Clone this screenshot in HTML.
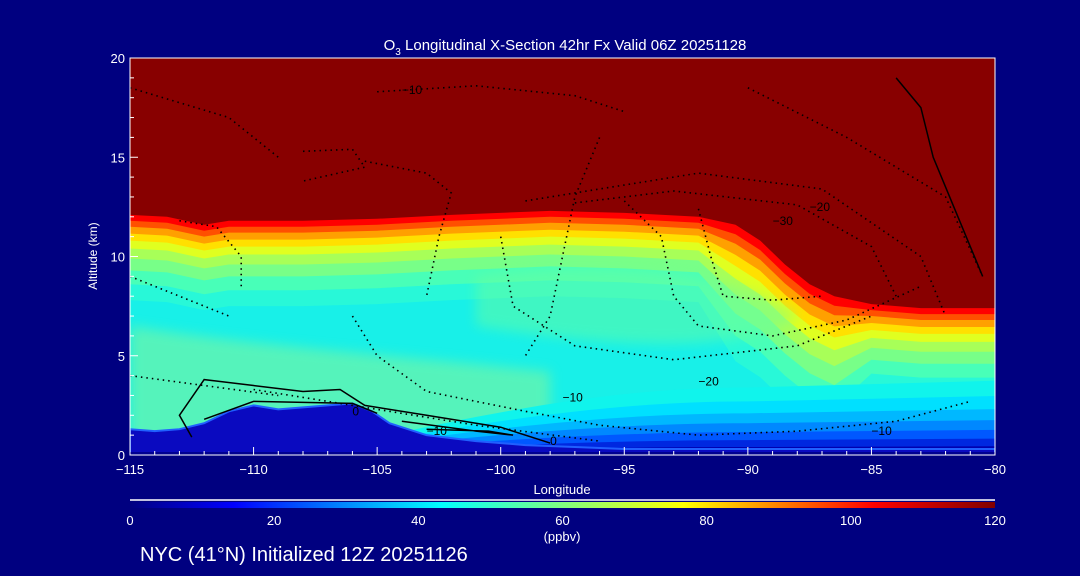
<!DOCTYPE html>
<html><head><meta charset="utf-8"><style>
html,body{margin:0;padding:0;background:#000080;}
svg{display:block;font-family:"Liberation Sans",sans-serif;}
</style></head><body>
<svg id="chart" width="1080" height="576" viewBox="0 0 1080 576" xmlns="http://www.w3.org/2000/svg">
<defs>
<clipPath id="plotclip"><rect x="130" y="58" width="865" height="397"/></clipPath>
<linearGradient id="cbar" x1="0" x2="1" y1="0" y2="0">
<stop offset="0" stop-color="#000080"/><stop offset="0.12" stop-color="#0000ff"/>
<stop offset="0.36" stop-color="#00ffff"/><stop offset="0.5" stop-color="#80ff80"/>
<stop offset="0.64" stop-color="#ffff00"/><stop offset="0.86" stop-color="#ff0000"/>
<stop offset="1" stop-color="#800000"/></linearGradient>
<filter id="blur"><feGaussianBlur stdDeviation="6"/></filter>
</defs>
<g id="plot" clip-path="url(#plotclip)"></g>
<g id="axes"></g>
<text x="565" y="50" fill="#fff" font-size="15" text-anchor="middle">O<tspan font-size="10" dy="5">3</tspan><tspan dy="-5"> Longitudinal X-Section 42hr  Fx Valid 06Z 20251128</tspan></text>
<text x="562" y="494" fill="#fff" font-size="13" text-anchor="middle">Longitude</text>
<text x="97" y="256" fill="#fff" font-size="12" text-anchor="middle" transform="rotate(-90 97 256)">Altitude (km)</text>
<line x1="130" y1="500" x2="995" y2="500" stroke="#fff" stroke-width="1.5"/>
<rect x="130" y="502" width="865" height="6" fill="url(#cbar)"/>
<g id="cbticks"></g>
<text x="562" y="541" fill="#fff" font-size="13" text-anchor="middle">(ppbv)</text>
<text x="140" y="561" fill="#fff" font-size="20">NYC (41°N) Initialized 12Z 20251126</text>
</svg>
<script>
const xTicks=[-115,-110,-105,-100,-95,-90,-85,-80];
const yTicks=[0,5,10,15,20];
const cbLabels=[0,20,40,60,80,100,120];
const tropoLon=[-115,-113.5,-112,-111,-108,-105,-102,-98,-95,-92,-90.5,-89.5,-88.5,-87.5,-86.5,-85,-83,-80];
const tropoAlt=[12.1,12.0,11.6,11.8,11.8,11.9,12.1,12.3,12.2,12.0,11.6,10.8,9.6,8.6,8.0,7.6,7.4,7.4];
const terrLon=[-115,-114,-113,-112,-111,-110,-109,-108,-107,-106,-105.2,-104.5,-103,-101,-99,-97,-95,-90,-85,-80];
const terrAlt=[1.3,1.2,1.3,1.6,2.2,2.5,2.3,2.4,2.5,2.6,2.2,1.6,1.0,0.7,0.5,0.4,0.3,0.3,0.3,0.3];
const ns='http://www.w3.org/2000/svg';
const X=lon=>130+(lon+115)/35*865, Y=a=>455-a/20*397;
function mk(t,at,p){const e=document.createElementNS(ns,t);for(const k in at)e.setAttribute(k,at[k]);p.appendChild(e);return e;}
const plot=document.getElementById('plot');
const bg=mk('rect',{x:130,y:58,width:865,height:397,fill:'#880000'},plot);


const bandOff=[0,0.3,0.6,0.95,1.3,1.7,2.2,2.8,3.5,4.3];
const bandCol=['#ff0000','#ff5000','#ffa000','#ffe000','#e0ff20','#a8ff58','#78ff88','#48ffb8','#28f8d8','#18f0e8'];
bandOff.forEach((o,i)=>{
 const spread=lon=>lon>-91&&lon<-85?1.6:1;
 let d='M'+X(-115)+','+Y(0);
 tropoLon.forEach((l,j)=>{d+=' L'+X(l)+','+Y(tropoAlt[j]-o*spread(l))});
 d+=' L'+X(-80)+','+Y(0)+'Z';
 const p=mk('path',{d:d,fill:bandCol[i]},plot);
 
 
});
const g1=mk('path',{d:`M${X(-115)},${Y(6.5)} C${X(-110)},${Y(5.5)} ${X(-104)},${Y(5)} ${X(-98)},${Y(4.2)} L${X(-98)},${Y(0)} L${X(-115)},${Y(0)}Z`,fill:'#70f5a8',opacity:0.7,filter:'url(#blur)'},plot);


const g2=mk('path',{d:`M${X(-101)},${Y(9)} C${X(-95)},${Y(10)} ${X(-90)},${Y(9)} ${X(-88)},${Y(7)} C${X(-90)},${Y(5)} ${X(-96)},${Y(5.5)} ${X(-101)},${Y(6.5)}Z`,fill:'#70ff98',opacity:0.45,filter:'url(#blur)'},plot);


const sfcH=[3.4,2.7,2.1,1.6,1.15,0.75,0.4];
const sfcC=['#10f4ec','#00e0ff','#00b8ff','#0088ff','#0058ff','#0028e0','#0000b0'];
sfcH.forEach((h,i)=>{
 const d=`M${X(-108)},${Y(0)} C${X(-100)},${Y(h*0.7)} ${X(-95)},${Y(h)} ${X(-90)},${Y(h)} L${X(-80)},${Y(h*1.1)} L${X(-80)},${Y(0)}Z`;
 const p=mk('path',{d:d,fill:sfcC[i]},plot);
 
 
});
let td='M'+X(-115)+','+Y(0);
terrLon.forEach((l,j)=>{td+=' L'+X(l)+','+Y(terrAlt[j])});
td+=' L'+X(-80)+','+Y(0)+'Z';
const terr=mk('path',{d:td,fill:'#0a0ac0',stroke:'#2060ff','stroke-width':2},plot);


mk('rect',{x:130,y:Y(0.15),width:865,height:10,fill:'#000090'},plot);
const dotted=[
 [[-115,18.5],[-111,17],[-109,15]],
 [[-105,18.3],[-101,18.6],[-97,18.1],[-95,17.3]],
 [[-108,15.3],[-106,15.4],[-105.5,14.5],[-108,13.8]],
 [[-105.5,14.8],[-103,14.2],[-102,13.2],[-102.5,11],[-103,8]],
 [[-96,16],[-97,13],[-97.5,10],[-98,7],[-99,5]],
 [[-113,11.8],[-111.5,11.5],[-110.5,10],[-110.5,8.5]],
 [[-100,11],[-99.5,7.5],[-97,5.5],[-93,4.8],[-88,5.5],[-85,7]],
 [[-95,12.8],[-93.5,11],[-93,8],[-92,6.5],[-89,6],[-86,6.8],[-83,8.5]],
 [[-92,12.4],[-91.5,10],[-91,8],[-89,7.8],[-87,8]],
 [[-97,12.7],[-93,13.3],[-88,12.6],[-85,10.5],[-84,8]],
 [[-99,12.8],[-92,14.2],[-87,13.4],[-83,10],[-82,7]],
 [[-90,18.5],[-86,16],[-82,13],[-80.5,9]],
 [[-115,9],[-113,8],[-111,7]],
 [[-106,7],[-105,5],[-103,3.2],[-99,2.2],[-96,1.5],[-92,1],[-88,1.2],[-84,1.7],[-81,2.7]],
 [[-110,3.3],[-105,2.3],[-101,1.5],[-96,0.7]],
 [[-115,4],[-112,3.5],[-109,3]]
];
const solid=[
 [[-112.5,0.9],[-113,2],[-112,3.8],[-110,3.5],[-108,3.2],[-106.5,3.3],[-105.5,2.5],[-103,2],[-100,1.4],[-98,0.6]],
 [[-104,1.7],[-101,1.2],[-99.5,1.0],[-100.5,1.2],[-103,1.3]],
 [[-84,19],[-83,17.5],[-82.5,15],[-81.5,12],[-80.5,9]],
 [[-112,1.8],[-110,2.7],[-106,2.6],[-105,2.1]]
];
dotted.forEach(c=>{const p=mk('polyline',{points:c.map(q=>X(q[0])+','+Y(q[1])).join(' '),fill:'none',stroke:'#000','stroke-width':1.6,'stroke-dasharray':'1.5 4'},plot);
 
 });
solid.forEach(c=>{const p=mk('polyline',{points:c.map(q=>X(q[0])+','+Y(q[1])).join(' '),fill:'none',stroke:'#000','stroke-width':1.5},plot);
 
 });
const labs=[[-104,18.4,'−10'],[-87.5,12.5,'−20'],[-89,11.8,'−30'],[-92,3.7,'−20'],[-97.5,2.9,'−10'],[-85,1.2,'−10'],[-103,1.2,'−10'],[-98,0.7,'0'],[-106,2.2,'0']];
labs.forEach(l=>{const t=mk('text',{x:X(l[0]),y:Y(l[1])+4,'font-size':12,fill:'#000'},plot);t.textContent=l[2];
 
 });
const ax=document.getElementById('axes');
mk('rect',{x:130,y:58,width:865,height:397,fill:'none',stroke:'#fff','stroke-width':1},ax);
for(let l=-115;l<=-80;l++){const maj=l%5===0;mk('line',{x1:X(l),x2:X(l),y1:455,y2:455-(maj?8:4),stroke:'#fff'},ax);}
for(let a=0;a<=20;a++){const maj=a%5===0;mk('line',{x1:130,x2:130+(maj?8:4),y1:Y(a),y2:Y(a),stroke:'#fff'},ax);}
xTicks.forEach(v=>{const t=mk('text',{x:X(v),y:474,'font-size':13,fill:'#fff','text-anchor':'middle'},ax);t.textContent=v<0?'−'+(-v):v;
 
 });
yTicks.forEach(v=>{const t=mk('text',{x:125,y:Y(v)+5,'font-size':13,fill:'#fff','text-anchor':'end'},ax);t.textContent=v;
 
 });
const cb=document.getElementById('cbticks');
cbLabels.forEach(v=>{const t=mk('text',{x:130+v/120*865,y:525,'font-size':13,fill:'#fff','text-anchor':'middle'},cb);t.textContent=v;
 
 });
</script>
</body></html>
